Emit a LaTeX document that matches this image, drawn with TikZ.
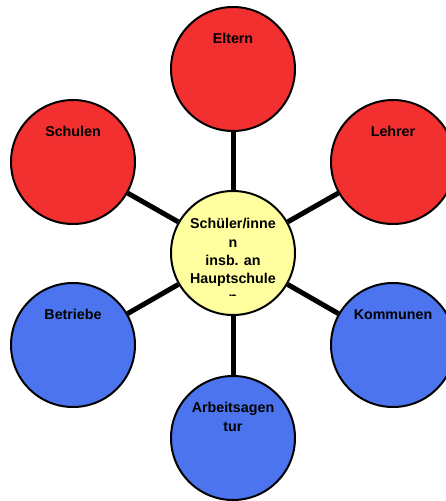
\documentclass[tikz,border=0pt]{standalone}
\usepackage{fontspec}
\setmainfont{Liberation Sans}
\usetikzlibrary{calc}
\definecolor{kreisrot}{RGB}{242,48,48}
\definecolor{kreisblau}{RGB}{76,116,238}
\definecolor{kreisgelb}{RGB}{255,255,160}
\tikzset{
	kreis/.style={circle,draw=black,line width=1.5pt,minimum size=93pt,inner sep=0pt},
	beschriftung/.style={font=\bfseries\fontsize{10.7}{13.8}\selectfont,align=center,anchor=north,inner sep=0pt},
	verbindung/.style={line width=3.75pt},
}
\begin{document}
\begin{tikzpicture}[x=0.75pt,y=-0.75pt]
		\useasboundingbox (0,0) rectangle (446,501);
		\clip (0,0) rectangle (446,501);
		\node[kreis,fill=kreisgelb] (schueler) at (233,253) {};
		\foreach \n/\x/\y/\farbe in {eltern/233/69/kreisrot,schulen/73/162/kreisrot,lehrer/393/162/kreisrot,betriebe/73/345/kreisblau,kommunen/393/345/kreisblau,arbeit/233/438/kreisblau}
		\node[kreis,fill=\farbe] (\n) at (\x,\y) {};
		\foreach \n in {eltern,schulen,lehrer,betriebe,kommunen,arbeit}
		\draw[verbindung] (schueler) -- (\n);
		\foreach \n/\t in {eltern/Eltern,schulen/Schulen,lehrer/Lehrer,betriebe/Betriebe,kommunen/Kommunen,arbeit/{Arbeitsagen\\tur}}
		\node[beschriftung] (\n-text) at ($ (\n.north) + (0,27) $) {\t};
		\begin{scope}
			\clip (150,190) rectangle (300,295);
			\node[beschriftung] (schueler-text) at ($ (schueler.north) + (0,28) $) {Schüler/inne\\n\\insb. an\\Hauptschule\\n};
		\end{scope}
	\end{tikzpicture}
\end{document}
